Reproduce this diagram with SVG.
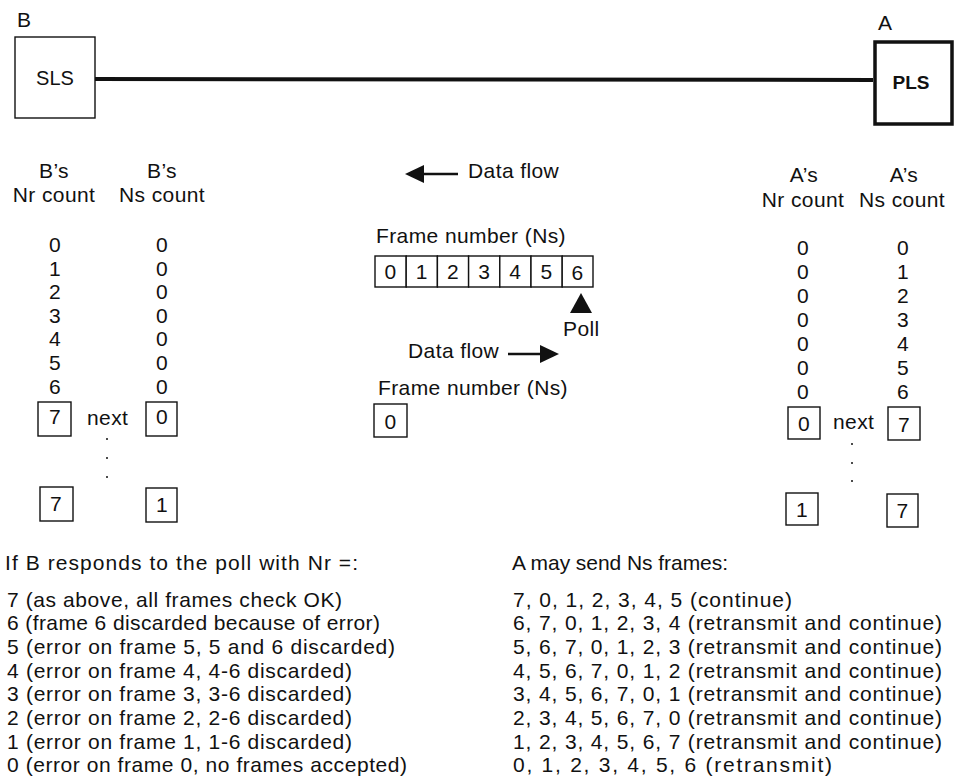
<svg xmlns="http://www.w3.org/2000/svg" width="957" height="778" viewBox="0 0 957 778">
<style>
text{font-family:"Liberation Sans",Arial,sans-serif;font-size:21px;letter-spacing:0.4px;fill:#111}
.c{text-anchor:middle}
.b{fill:#fff;stroke:#111;stroke-width:1.4}
.lbl{font-size:20px;letter-spacing:0}
.bold{font-weight:bold;font-size:19px;letter-spacing:0}
.ls{letter-spacing:0}
</style>
<rect width="957" height="778" fill="#fff"/>
<g id="connectors">
<line x1="95" y1="79" x2="873" y2="80" stroke="#111" stroke-width="4"/>
<line x1="420" y1="174" x2="458" y2="174" stroke="#111" stroke-width="2.5"/>
<polygon points="405,174 424,165 424,183" fill="#111"/>
<line x1="508" y1="354" x2="542" y2="354" stroke="#111" stroke-width="2.5"/>
<polygon points="559,354 540,345 540,363" fill="#111"/>
<polygon points="581,293 570,313 592,313" fill="#111"/>
</g>
<g id="node-B">
<text x="17" y="27">B</text>
<rect class="b" x="15" y="37" width="80" height="81"/>
<text class="c lbl" x="55" y="85">SLS</text>
</g>
<g id="node-A">
<text x="878" y="30">A</text>
<rect x="875" y="42" width="77" height="82" fill="#fff" stroke="#111" stroke-width="3.5"/>
<text class="c bold" x="911" y="89">PLS</text>
</g>
<g id="B-columns">
<text class="c" x="54" y="178">B’s</text>
<text class="c" x="54" y="202">Nr count</text>
<text class="c" x="162" y="178">B’s</text>
<text class="c" x="162" y="202">Ns count</text>
<text class="c" x="55" y="252">0</text><text class="c" x="162" y="252">0</text>
<text class="c" x="55" y="275.6">1</text><text class="c" x="162" y="275.6">0</text>
<text class="c" x="55" y="299.2">2</text><text class="c" x="162" y="299.2">0</text>
<text class="c" x="55" y="322.8">3</text><text class="c" x="162" y="322.8">0</text>
<text class="c" x="55" y="346.4">4</text><text class="c" x="162" y="346.4">0</text>
<text class="c" x="55" y="370">5</text><text class="c" x="162" y="370">0</text>
<text class="c" x="55" y="393.6">6</text><text class="c" x="162" y="393.6">0</text>
<rect class="b" x="38" y="402" width="33" height="34"/><text class="c" x="55" y="424">7</text>
<text x="87" y="425">next</text>
<rect class="b" x="146" y="402" width="31" height="34"/><text class="c" x="162" y="424">0</text>
<circle cx="107" cy="439" r="1" fill="#111"/><circle cx="107" cy="458" r="1" fill="#111"/><circle cx="107" cy="477" r="1" fill="#111"/>
<rect class="b" x="40" y="487" width="33" height="34"/><text class="c" x="56" y="511">7</text>
<rect class="b" x="146" y="488" width="31" height="34"/><text class="c" x="162" y="512">1</text>
</g>
<g id="middle">
<text x="468" y="178">Data flow</text>
<text x="376" y="243">Frame number (Ns)</text>
<rect class="b" x="375" y="256" width="31.2" height="31"/>
<rect class="b" x="406.2" y="256" width="31.2" height="31"/>
<rect class="b" x="437.4" y="256" width="31.2" height="31"/>
<rect class="b" x="468.6" y="256" width="31.2" height="31"/>
<rect class="b" x="499.8" y="256" width="31.2" height="31"/>
<rect class="b" x="531" y="256" width="31.2" height="31"/>
<rect class="b" x="562.2" y="256" width="30.8" height="31"/>
<text class="c" x="390.6" y="279">0</text>
<text class="c" x="421.8" y="279">1</text>
<text class="c" x="453" y="279">2</text>
<text class="c" x="484.2" y="279">3</text>
<text class="c" x="515.4" y="279">4</text>
<text class="c" x="546.6" y="279">5</text>
<text class="c" x="577.6" y="280">6</text>
<text x="563" y="336">Poll</text>
<text x="408" y="358">Data flow</text>
<text x="378" y="395">Frame number (Ns)</text>
<rect class="b" x="374" y="404" width="33" height="33"/><text class="c" x="390.5" y="429">0</text>
</g>
<g id="A-columns">
<text class="c" x="804" y="182">A’s</text>
<text class="c" x="803" y="207">Nr count</text>
<text class="c" x="904" y="182">A’s</text>
<text class="c" x="902" y="207">Ns count</text>
<text class="c" x="803" y="255">0</text><text class="c" x="903" y="255">0</text>
<text class="c" x="803" y="279">0</text><text class="c" x="903" y="279">1</text>
<text class="c" x="803" y="303">0</text><text class="c" x="903" y="303">2</text>
<text class="c" x="803" y="327">0</text><text class="c" x="903" y="327">3</text>
<text class="c" x="803" y="351">0</text><text class="c" x="903" y="351">4</text>
<text class="c" x="803" y="375">0</text><text class="c" x="903" y="375">5</text>
<text class="c" x="803" y="399">0</text><text class="c" x="903" y="399">6</text>
<rect class="b" x="788" y="407" width="32" height="32"/><text class="c" x="804" y="431">0</text>
<text x="833" y="429">next</text>
<rect class="b" x="888" y="407" width="32" height="33"/><text class="c" x="904" y="432">7</text>
<circle cx="852" cy="444" r="1" fill="#111"/><circle cx="852" cy="463" r="1" fill="#111"/><circle cx="852" cy="481" r="1" fill="#111"/>
<rect class="b" x="786" y="493" width="32" height="32"/><text class="c" x="802" y="517">1</text>
<rect class="b" x="887" y="494" width="31" height="33"/><text class="c" x="902.5" y="518">7</text>
</g>
<g id="left-list" class="ls">
<text class="ls" x="5" y="570" textLength="353" lengthAdjust="spacing">If B responds to the poll with Nr =:</text>
<text class="ls" x="7" y="606.5" textLength="335" lengthAdjust="spacing">7 (as above, all frames check OK)</text>
<text class="ls" x="7" y="630.2" textLength="373" lengthAdjust="spacing">6 (frame 6 discarded because of error)</text>
<text class="ls" x="7" y="653.9" textLength="388" lengthAdjust="spacing">5 (error on frame 5, 5 and 6 discarded)</text>
<text class="ls" x="7" y="677.6" textLength="345" lengthAdjust="spacing">4 (error on frame 4, 4-6 discarded)</text>
<text class="ls" x="7" y="701.3" textLength="345" lengthAdjust="spacing">3 (error on frame 3, 3-6 discarded)</text>
<text class="ls" x="7" y="725" textLength="345" lengthAdjust="spacing">2 (error on frame 2, 2-6 discarded)</text>
<text class="ls" x="7" y="748.7" textLength="345" lengthAdjust="spacing">1 (error on frame 1, 1-6 discarded)</text>
<text class="ls" x="7" y="772.4" textLength="400" lengthAdjust="spacing">0 (error on frame 0, no frames accepted)</text>
</g>
<g id="right-list">
<text class="ls" x="512" y="570" textLength="216" lengthAdjust="spacing">A may send Ns frames:</text>
<text class="ls" x="513" y="606.5" textLength="279" lengthAdjust="spacing">7, 0, 1, 2, 3, 4, 5 (continue)</text>
<text class="ls" x="513" y="630.2" textLength="429" lengthAdjust="spacing">6, 7, 0, 1, 2, 3, 4 (retransmit and continue)</text>
<text class="ls" x="513" y="653.9" textLength="429" lengthAdjust="spacing">5, 6, 7, 0, 1, 2, 3 (retransmit and continue)</text>
<text class="ls" x="513" y="677.6" textLength="429" lengthAdjust="spacing">4, 5, 6, 7, 0, 1, 2 (retransmit and continue)</text>
<text class="ls" x="513" y="701.3" textLength="429" lengthAdjust="spacing">3, 4, 5, 6, 7, 0, 1 (retransmit and continue)</text>
<text class="ls" x="513" y="725" textLength="429" lengthAdjust="spacing">2, 3, 4, 5, 6, 7, 0 (retransmit and continue)</text>
<text class="ls" x="513" y="748.7" textLength="429" lengthAdjust="spacing">1, 2, 3, 4, 5, 6, 7 (retransmit and continue)</text>
<text class="ls" x="513" y="772.4" textLength="319" lengthAdjust="spacing">0, 1, 2, 3, 4, 5, 6 (retransmit)</text>
</g>
</svg>
